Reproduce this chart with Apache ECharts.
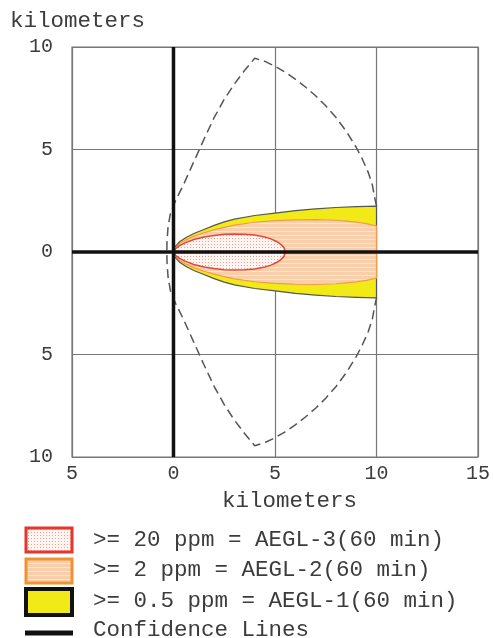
<!DOCTYPE html>
<html>
<head>
<meta charset="utf-8">
<script src="https://cdn.jsdelivr.net/npm/echarts@6/dist/echarts.min.js"></script>
<style>
html,body{margin:0;padding:0;background:#fff;}
#chart{width:493px;height:638px;}
</style>
</head>
<body>
<div id="chart"></div>
<script>
// ---- data ----
const xTicks = [-5, 0, 5, 10, 15];
const xTickLabels = ['5', '0', '5', '10', '15'];
const yTicks = [-10, -5, 0, 5, 10];
const yTickLabels = ['10', '5', '0', '5', '10'];
const axisTitle = 'kilometers';

// AEGL-1 (yellow) zone: downwind distance and half width (km)
const yellowX    = [0, 0.1, 0.3, 0.6, 1, 1.5, 2, 2.5, 3, 4, 5, 6, 7, 8, 9, 10];
const yellowHalf = [0, 0.28, 0.5, 0.7, 0.9, 1.1, 1.3, 1.47, 1.6, 1.78, 1.9, 2.02, 2.1, 2.17, 2.21, 2.24];
// AEGL-2 (orange) zone
const orangeX    = [0, 0.1, 0.3, 0.6, 1, 1.5, 2, 2.5, 3, 4, 5, 6, 7, 8, 8.5, 9, 9.5, 10];
const orangeHalf = [0, 0.22, 0.4, 0.58, 0.76, 0.94, 1.08, 1.2, 1.31, 1.45, 1.53, 1.57, 1.58, 1.55, 1.51, 1.46, 1.38, 1.27];
// AEGL-3 (red) zone
const redX    = [0, 0.1, 0.3, 0.6, 1, 1.5, 2, 2.5, 3, 3.5, 4, 4.5, 4.8, 5.1, 5.3, 5.45, 5.5];
const redHalf = [0, 0.16, 0.31, 0.46, 0.61, 0.73, 0.81, 0.86, 0.88, 0.87, 0.83, 0.73, 0.64, 0.5, 0.36, 0.2, 0];
// Confidence lines (dashed)
const confX = [10, 9.9, 9.8, 9.6, 9.3, 9, 8.5, 8, 7.5, 7, 6.5, 6, 5.5, 5, 4.5, 4,
               3.5, 3.0, 2.5, 2.0, 1.5, 1.0, 0.5, 0.1, -0.15, -0.27, -0.32, -0.33,
               -0.32, -0.27, -0.15, 0.1, 0.5, 1.0, 1.5, 2.0, 2.5, 3.0, 3.5,
               4, 4.5, 5, 5.5, 6, 6.5, 7, 7.5, 8, 8.5, 9, 9.3, 9.6, 9.8, 9.9, 10];
const confY = [2.24, 2.7, 3.25, 3.87, 4.54, 5.11, 5.9, 6.57, 7.13, 7.62, 8.05, 8.43, 8.77, 9.06, 9.3, 9.45,
               8.85, 8.2, 7.45, 6.55, 5.5, 4.4, 3.3, 2.5, 1.9, 1.2, 0.5, 0,
               -0.5, -1.2, -1.9, -2.5, -3.3, -4.4, -5.5, -6.55, -7.45, -8.2, -8.85,
               -9.45, -9.3, -9.06, -8.77, -8.43, -8.05, -7.62, -7.13, -6.57, -5.9, -5.11, -4.54, -3.87, -3.25, -2.7, -2.24];
// Heavy reference lines through the source
const heavyX = [[0, 0], [-5, 15]];
const heavyY = [[-10, 10], [0, 0]];

const legendLabels = [
  '>= 20 ppm = AEGL-3(60 min)',
  '>= 2 ppm = AEGL-2(60 min)',
  '>= 0.5 ppm = AEGL-1(60 min)',
  'Confidence Lines'
];

// ---- patterns ----
function makePattern(w, h, draw) {
  const c = document.createElement('canvas');
  c.width = w; c.height = h;
  draw(c.getContext('2d'));
  return { image: c, repeat: 'repeat' };
}
const redPattern = makePattern(3, 3, ctx => {
  ctx.fillStyle = '#fff6f3'; ctx.fillRect(0, 0, 3, 3);
  ctx.fillStyle = '#f3a08c'; ctx.fillRect(1, 1, 1, 1);
});
const orangePattern = makePattern(4, 4, ctx => {
  ctx.fillStyle = '#f9cfab'; ctx.fillRect(0, 0, 4, 4);
  ctx.fillStyle = '#fde5d0'; ctx.fillRect(0, 3, 4, 1);
});
const yellowFill = '#f2ea16';

const FONT = '"Liberation Mono", "Courier New", monospace';
const TXT = '#3c3c3c';

function zone(xs, half, fill, stroke, lw) {
  return {
    type: 'custom',
    coordinateSystem: 'cartesian2d',
    clip: true,
    silent: true,
    data: [0],
    renderItem: function (params, api) {
      const pts = [];
      for (let i = 0; i < xs.length; i++) pts.push(api.coord([xs[i], half[i]]));
      for (let i = xs.length - 1; i >= 0; i--) pts.push(api.coord([xs[i], -half[i]]));
      return { type: 'polygon', shape: { points: pts }, style: { fill: fill, stroke: stroke, lineWidth: lw } };
    }
  };
}

const chart = echarts.init(document.getElementById('chart'), null, { renderer: 'canvas' });

const legendTop = [528, 559, 589];
const legendFills = [redPattern, orangePattern, yellowFill];
const legendStrokes = ['#e8352c', '#f0922e', '#111111'];
const legendLW = [3, 3, 4];
const legendH = [24, 24, 26];
const legendTextY = [540, 570, 601, 630];

const graphics = [
  { type: 'text', left: 10, top: 10, style: { text: axisTitle, font: '22.5px ' + FONT, fill: TXT } },
  { type: 'text', left: 222, top: 490, style: { text: axisTitle, font: '22.5px ' + FONT, fill: TXT } }
];
for (let i = 0; i < 3; i++) {
  graphics.push({ type: 'rect', shape: { x: 26, y: legendTop[i], width: 46, height: legendH[i] },
    style: { fill: legendFills[i], stroke: legendStrokes[i], lineWidth: legendLW[i] } });
}
graphics.push({ type: 'line', shape: { x1: 25, y1: 633, x2: 73, y2: 633 }, style: { stroke: '#111', lineWidth: 5 } });
for (let i = 0; i < 4; i++) {
  graphics.push({ type: 'text', x: 93, y: legendTextY[i],
    style: { text: legendLabels[i], font: '22.5px ' + FONT, fill: TXT, verticalAlign: 'middle' } });
}

chart.setOption({
  animation: false,
  backgroundColor: '#fff',
  grid: { left: 72, top: 47, width: 409, height: 410, show: true, borderColor: '#777', borderWidth: 1.2 },
  xAxis: {
    type: 'value', min: -5, max: 15, interval: 5,
    axisLine: { show: false }, axisTick: { show: false },
    splitLine: { show: true, lineStyle: { color: '#777', width: 1.2 } },
    axisLabel: { margin: 7, color: TXT, fontFamily: FONT, fontSize: 20,
      formatter: v => xTickLabels[xTicks.indexOf(v)] }
  },
  yAxis: {
    type: 'value', min: -10, max: 10, interval: 5,
    axisLine: { show: false }, axisTick: { show: false },
    splitLine: { show: true, lineStyle: { color: '#777', width: 1.2 } },
    axisLabel: { margin: 19, color: TXT, fontFamily: FONT, fontSize: 20,
      formatter: v => yTickLabels[yTicks.indexOf(v)] }
  },
  graphic: graphics,
  series: [
    zone(yellowX, yellowHalf, yellowFill, '#555', 1.2),
    zone(orangeX, orangeHalf, orangePattern, '#f29a4c', 1.2),
    zone(redX, redHalf, redPattern, '#e8453a', 1.5),
    {
      type: 'line', data: confX.map((x, i) => [x, confY[i]]), showSymbol: false, silent: true,
      lineStyle: { color: '#555', width: 1.5, type: [9, 5] }, z: 3
    },
    {
      type: 'line', data: heavyX[0].map((x, i) => [x, heavyY[0][i]]), showSymbol: false, silent: true,
      lineStyle: { color: '#111', width: 3.5 }, z: 4
    },
    {
      type: 'line', data: heavyX[1].map((x, i) => [x, heavyY[1][i]]), showSymbol: false, silent: true,
      lineStyle: { color: '#111', width: 3.5 }, z: 4
    }
  ]
});
</script>
</body>
</html>
